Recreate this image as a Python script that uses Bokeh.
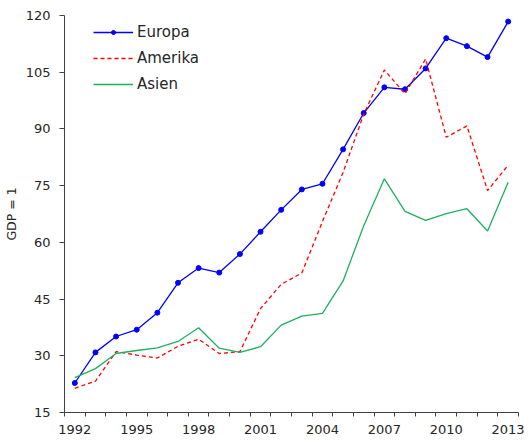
from bokeh.plotting import figure
from bokeh.models import FixedTicker, Legend
from bokeh.embed import file_html
from bokeh.resources import INLINE

years = list(range(1992, 2014))
europa = [22.8, 30.9, 35.1, 36.9, 41.4, 49.3, 53.2, 52.0, 56.9, 62.8, 68.6, 74.0,
          75.5, 84.6, 94.2, 101.0, 100.5, 106.0, 114.0, 111.9, 109.0, 118.4]
amerika = [21.4, 23.3, 31.1, 30.2, 29.4, 32.5, 34.4, 30.6, 31.1, 42.5, 48.9, 51.9,
           65.5, 78.5, 93.9, 105.6, 99.3, 108.5, 87.8, 90.8, 73.7, 80.4]
asien = [24.2, 26.6, 30.6, 31.4, 32.1, 33.8, 37.4, 32.0, 30.9, 32.4, 38.1, 40.5,
         41.2, 49.8, 64.4, 76.8, 68.2, 65.8, 67.6, 68.9, 63.0, 75.9]
x_label_years = [1992, 1995, 1998, 2001, 2004, 2007, 2010, 2013]
y_ticks = [15, 30, 45, 60, 75, 90, 105, 120]

FONT = "DejaVu Sans"
AX = "#404040"
TXT = "#262626"

p = figure(width=524, height=436, output_backend="svg",
           toolbar_location=None, x_range=(1991.5, 2013.5), y_range=(15, 120),
           min_border_left=59, min_border_right=6, min_border_top=15, min_border_bottom=0)
p.outline_line_color = None
p.xgrid.visible = False
p.ygrid.visible = False

l1 = p.line(years, europa, line_color="#0000FF", line_width=1.3)
s1 = p.scatter(years, europa, size=5, fill_color="#0000FF", line_color="#0000FF")
l2 = p.line(years, amerika, line_color="#FF0000", line_width=1.3, line_dash="4 3")
l3 = p.line(years, asien, line_color="#1DB060", line_width=1.3)

xa = p.xaxis[0]
xa.ticker = FixedTicker(ticks=x_label_years, minor_ticks=[y - 0.5 for y in years] + [2013.5])
xa.major_tick_line_color = None
xa.minor_tick_out = 4
xa.minor_tick_in = 0
xa.minor_tick_line_color = AX
xa.axis_line_color = AX
xa.major_label_standoff = 6
xa.major_label_text_font = FONT
xa.major_label_text_font_size = "13px"
xa.major_label_text_color = TXT

ya = p.yaxis[0]
ya.ticker = FixedTicker(ticks=y_ticks, minor_ticks=[])
ya.major_tick_out = 5
ya.major_tick_in = 0
ya.major_tick_line_color = AX
ya.axis_line_color = AX
ya.major_label_standoff = 9
ya.major_label_text_font = FONT
ya.major_label_text_font_size = "13px"
ya.major_label_text_color = TXT
ya.axis_label = "GDP = 1"
ya.axis_label_text_font = FONT
ya.axis_label_text_font_size = "12.5px"
ya.axis_label_text_font_style = "normal"
ya.axis_label_text_color = TXT
ya.axis_label_standoff = 4

legend = Legend(items=[("Europa", [l1, s1]), ("Amerika", [l2]), ("Asien", [l3])],
                location=(29, 318))
legend.padding = 0
legend.margin = 0
legend.spacing = 6
legend.glyph_width = 40
legend.glyph_height = 10
legend.label_height = 20
legend.label_standoff = 4
legend.label_text_font = FONT
legend.label_text_font_size = "15px"
legend.label_text_color = TXT
legend.background_fill_alpha = 0
legend.border_line_color = None
p.add_layout(legend, "center")

open("out.html", "w").write(file_html(p, INLINE))
